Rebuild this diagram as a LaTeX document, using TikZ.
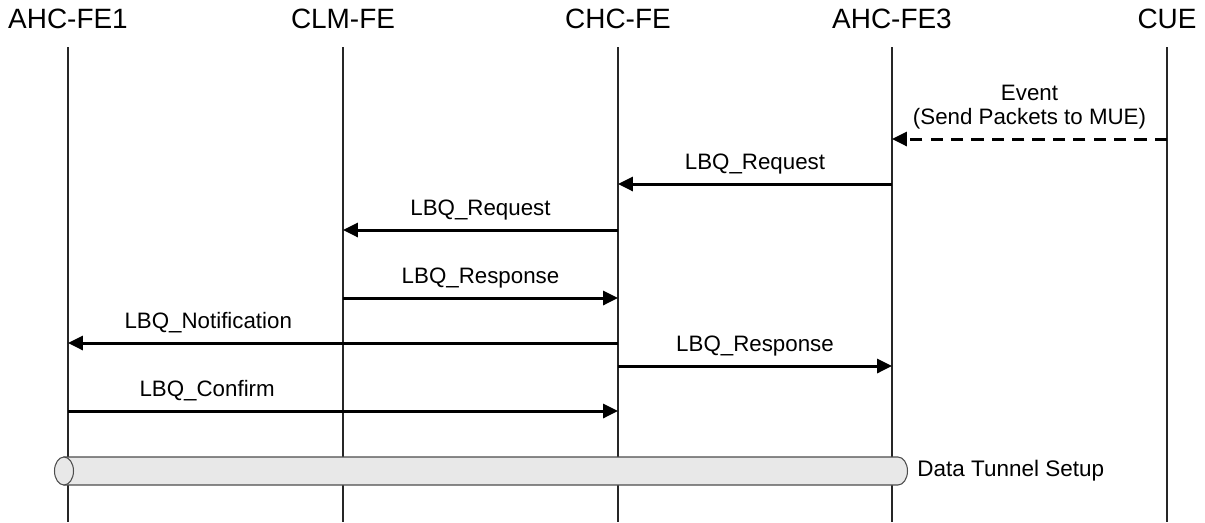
\documentclass[tikz,border=0pt]{standalone}
\usepackage{fontspec}
\setmainfont{Liberation Sans}
\usetikzlibrary{arrows.meta}

\tikzset{
  entity/.style={font=\fontsize{15.9}{19}\selectfont, inner sep=0pt},
  lifeline/.style={line width=0.6pt, black!85},
  msg/.style={line width=1.7pt, -{Triangle[length=8.5pt, width=8pt]}},
  event/.style={msg, dash pattern=on 7pt off 4.6pt},
  msglabel/.style={font=\fontsize{12.7}{13.6}\selectfont, above=5pt, inner sep=0pt, align=center},
  tunnel/.style={draw=black!70, line width=0.6pt, fill=black!9}
}

\begin{document}
\begin{tikzpicture}[x=0.02cm, y=-0.02cm]
    % Fix the picture size
    \useasboundingbox (0,0) rectangle (1205,522);

    % Entity names
    \node[entity] (fe1) at (68,19) {AHC-FE1};
    \node[entity] (clm) at (343,19) {CLM-FE};
    \node[entity] (chc) at (618,19) {CHC-FE};
    \node[entity] (fe3) at (892,19) {AHC-FE3};
    \node[entity] (cue) at (1167,19) {CUE};

    % Lifelines
    \coordinate (bot) at (0,522);
    \coordinate (top) at (0,47);
    \foreach \e in {fe1,clm,chc,fe3,cue}
        \draw[lifeline] (\e |- top) -- (\e |- bot);

    % Message levels
    \coordinate (m1) at (0,139);
    \coordinate (m2) at (0,184);
    \coordinate (m3) at (0,230);
    \coordinate (m4) at (0,298);
    \coordinate (m5) at (0,343);
    \coordinate (m6) at (0,366);
    \coordinate (m7) at (0,411);

    % Messages
    \draw[event] (cue |- m1) -- (fe3 |- m1)
        node[msglabel, midway] {Event\\(Send Packets to MUE)};
    \draw[msg] (fe3 |- m2) -- (chc |- m2) node[msglabel, midway] {LBQ\_Request};
    \draw[msg] (chc |- m3) -- (clm |- m3) node[msglabel, midway] {LBQ\_Request};
    \draw[msg] (clm |- m4) -- (chc |- m4) node[msglabel, midway] {LBQ\_Response};
    \draw[msg] (chc |- m5) -- (fe1 |- m5) node[msglabel, pos=0.745] {LBQ\_Notification};
    \draw[msg] (chc |- m6) -- (fe3 |- m6) node[msglabel, midway] {LBQ\_Response};
    \draw[msg] (fe1 |- m7) -- (chc |- m7) node[msglabel, pos=0.253] {LBQ\_Confirm};

    % Data tunnel
    \draw[tunnel] (64,457) -- (898,457) arc[start angle=90, end angle=-90, x radius=0.19cm, y radius=0.28cm] -- (64,485) -- cycle;
    \draw[tunnel] (64,471) ellipse [x radius=0.19cm, y radius=0.28cm];
    \node[font=\fontsize{12.8}{14}\selectfont, anchor=west, inner sep=0pt] (dts) at (917,471) {Data Tunnel Setup};
\end{tikzpicture}
\end{document}
